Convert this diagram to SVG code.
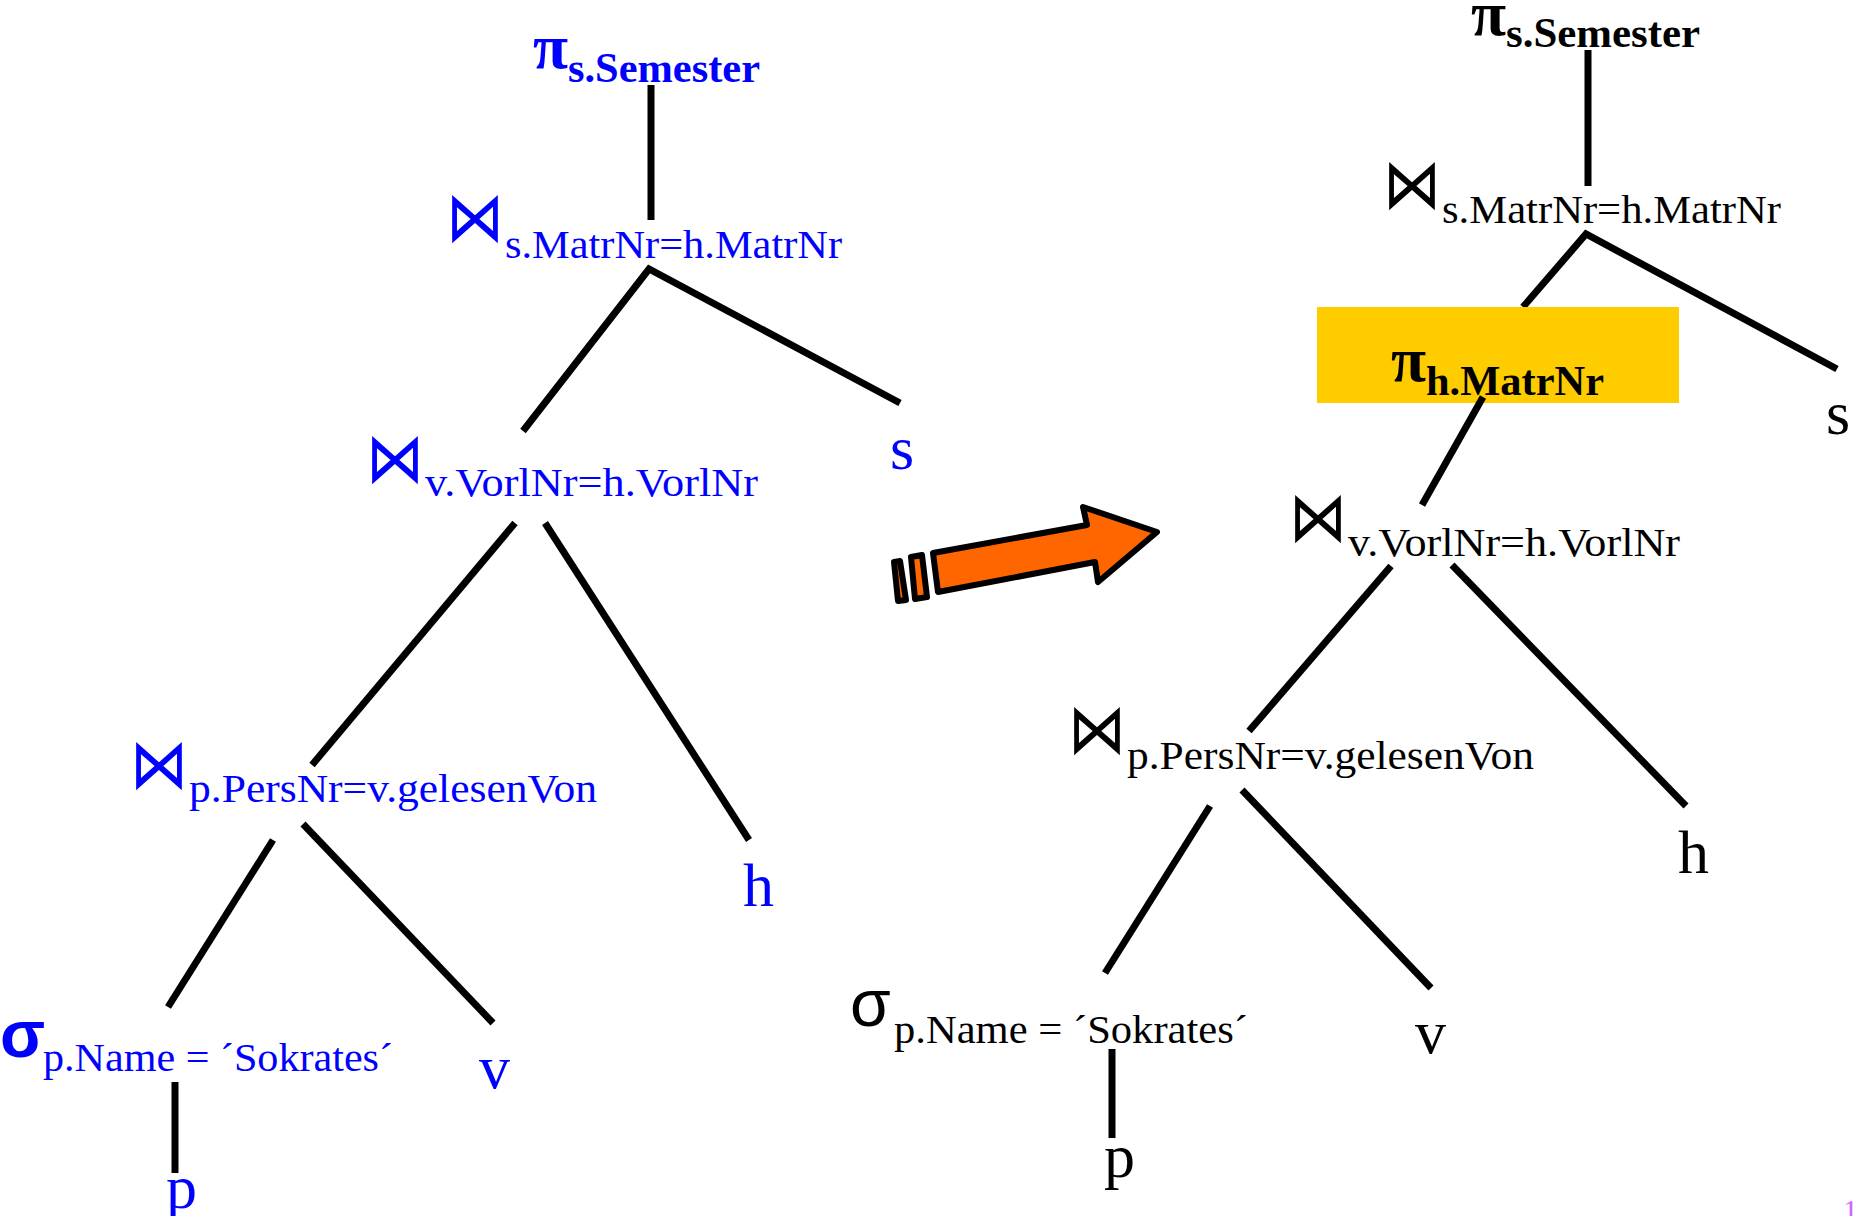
<svg xmlns="http://www.w3.org/2000/svg" width="1857" height="1216" viewBox="0 0 1857 1216">
<style>
  text { font-family: "Liberation Serif", "Times New Roman", serif; }
  .blue { fill: #0000FF; }
  .blk { fill: #000000; }
  .pi { font-size: 64px; font-weight: bold; }
  .sub { font-size: 40px; }
  .subb { font-size: 42px; font-weight: bold; }
  .join { font-family: "DejaVu Sans", sans-serif; font-size: 70px; font-weight: 200; }
  .sigma { font-family: "Liberation Sans", Arial, sans-serif; font-size: 66px; }
  .leaf { font-size: 62px; }
  .edge { stroke: #000; stroke-width: 7; fill: none; stroke-linejoin: miter; }
  .arrow { fill: #FF6600; stroke: #000; stroke-width: 6; stroke-linejoin: round; }
</style>

<!-- connectors -->
<g id="connectors">
  <line class="edge" x1="651" y1="85" x2="651" y2="220"/>
  <polyline class="edge" points="523,431 649,269 900,403"/>
  <line class="edge" x1="515" y1="523" x2="312" y2="765"/>
  <line class="edge" x1="545" y1="523" x2="749" y2="840"/>
  <line class="edge" x1="273" y1="840" x2="168" y2="1007"/>
  <line class="edge" x1="303" y1="824" x2="493" y2="1023"/>
  <line class="edge" x1="175" y1="1082" x2="175" y2="1173"/>

  <line class="edge" x1="1588" y1="50" x2="1588" y2="186"/>
  <polyline class="edge" points="1523,307 1586,234 1837,369"/>
  <line class="edge" x1="1391" y1="566" x2="1249" y2="731"/>
  <line class="edge" x1="1452" y1="565" x2="1686" y2="806"/>
  <line class="edge" x1="1210" y1="806" x2="1105" y2="973"/>
  <line class="edge" x1="1242" y1="790" x2="1431" y2="988"/>
  <line class="edge" x1="1112" y1="1049" x2="1112" y2="1138"/>
</g>

<!-- left tree -->
<g id="L_proj">
  <text class="blue pi" x="533" y="68">π</text>
  <text class="blue subb" x="568" y="82" textLength="192" lengthAdjust="spacingAndGlyphs">s.Semester</text>
</g>
<g id="L_join1">
  <text class="blue join" x="446" y="241" textLength="58" lengthAdjust="spacingAndGlyphs">⋈</text>
  <text class="blue sub" x="505" y="258" textLength="337" lengthAdjust="spacingAndGlyphs">s.MatrNr=h.MatrNr</text>
</g>
<g id="L_s"><text class="blue leaf" x="890" y="469">s</text></g>
<g id="L_join2">
  <text class="blue join" x="366" y="482" textLength="58" lengthAdjust="spacingAndGlyphs">⋈</text>
  <text class="blue sub" x="425" y="496" textLength="333" lengthAdjust="spacingAndGlyphs">v.VorlNr=h.VorlNr</text>
</g>
<g id="L_h"><text class="blue leaf" x="743" y="906">h</text></g>
<g id="L_join3">
  <text class="blue join" x="130" y="788" textLength="58" lengthAdjust="spacingAndGlyphs">⋈</text>
  <text class="blue sub" x="189" y="802" textLength="408" lengthAdjust="spacingAndGlyphs">p.PersNr=v.gelesenVon</text>
</g>
<g id="L_sel">
  <text class="blue sigma" x="0" y="1057" font-weight="bold">σ</text>
  <text class="blue sub" x="43" y="1071" textLength="350" lengthAdjust="spacingAndGlyphs">p.Name = ´Sokrates´</text>
</g>
<g id="L_v"><text class="blue leaf" x="479" y="1088">v</text></g>
<g id="L_p"><text class="blue leaf" x="166" y="1208">p</text></g>

<!-- arrow -->
<g id="arrow">
  <polygon class="arrow" points="894,562 900,561 906,600 898,601"/>
  <polygon class="arrow" points="911,557 922,555 927,597 915,599"/>
  <polygon class="arrow" points="933,553 1087,525 1083,507 1157,532 1098,582 1095,562 938,592"/>
</g>

<!-- right tree -->
<g id="R_proj">
  <text class="blk pi" x="1471" y="35">π</text>
  <text class="blk subb" x="1506" y="47" textLength="194" lengthAdjust="spacingAndGlyphs">s.Semester</text>
</g>
<g id="R_join1">
  <text class="blk join" x="1383" y="208" textLength="58" lengthAdjust="spacingAndGlyphs">⋈</text>
  <text class="blk sub" x="1442" y="223" textLength="339" lengthAdjust="spacingAndGlyphs">s.MatrNr=h.MatrNr</text>
</g>
<g id="R_s"><text class="blk leaf" x="1826" y="434">s</text></g>
<g id="R_proj2">
  <rect x="1317" y="307" width="362" height="96" fill="#FFCC00"/>
  <text class="blk pi" x="1391" y="381">π</text>
  <text class="blk subb" x="1426" y="395" textLength="178" lengthAdjust="spacingAndGlyphs">h.MatrNr</text>
  <line class="edge" x1="1483" y1="397" x2="1422" y2="505"/>
</g>
<g id="R_join2">
  <text class="blk join" x="1289" y="541" textLength="58" lengthAdjust="spacingAndGlyphs">⋈</text>
  <text class="blk sub" x="1348" y="556" textLength="332" lengthAdjust="spacingAndGlyphs">v.VorlNr=h.VorlNr</text>
</g>
<g id="R_h"><text class="blk leaf" x="1678" y="873">h</text></g>
<g id="R_join3">
  <text class="blk join" x="1068" y="753" textLength="58" lengthAdjust="spacingAndGlyphs">⋈</text>
  <text class="blk sub" x="1127" y="769" textLength="407" lengthAdjust="spacingAndGlyphs">p.PersNr=v.gelesenVon</text>
</g>
<g id="R_sel">
  <text class="blk sigma" x="850" y="1026">σ</text>
  <text class="blk sub" x="894" y="1043" textLength="354" lengthAdjust="spacingAndGlyphs">p.Name = ´Sokrates´</text>
</g>
<g id="R_v"><text class="blk leaf" x="1415" y="1053">v</text></g>
<g id="R_p"><text class="blk leaf" x="1104" y="1177">p</text></g>

<g id="pagenum"><text x="1843" y="1220" font-size="30" fill="#CC66FF" font-family="Liberation Sans, Arial, sans-serif">1</text></g>
</svg>
